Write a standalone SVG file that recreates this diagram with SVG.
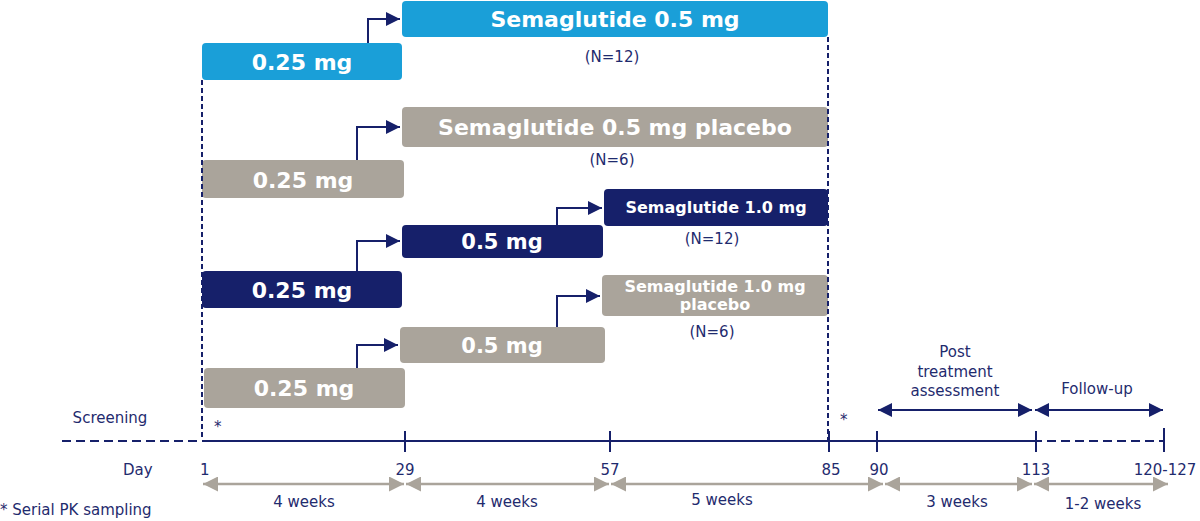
<svg xmlns="http://www.w3.org/2000/svg" width="1200" height="521" viewBox="0 0 1200 521">
<defs>
<marker id="a" viewBox="0 0 10 10" refX="10" refY="5" markerWidth="7" markerHeight="7" orient="auto-start-reverse"><path d="M0,0L10,5L0,10z" fill="#16206a"/></marker>
<marker id="g" viewBox="0 0 10 10" refX="10" refY="5" markerWidth="6" markerHeight="6" orient="auto-start-reverse"><path d="M0,0L10,5L0,10z" fill="#aaa49b"/></marker>
<style>
.b{fill:#1a9fd8}.p{fill:#aaa49b}.n{fill:#16206a}
.bt{font-family:Verdana,"DejaVu Sans",sans-serif;font-weight:bold;fill:#fff;text-anchor:middle}
.t{font-family:Verdana,"DejaVu Sans",sans-serif;fill:#1f2b6e;font-size:15px}
.m{text-anchor:middle}
.c{stroke:#16206a;stroke-width:2;fill:none}
.gl{stroke:#aaa49b;stroke-width:2.5;fill:none}
</style>
</defs>
<g id="r1a"><rect class="b" x="202" y="43" width="200" height="37" rx="4"/><text class="bt" x="302" y="70" font-size="22">0.25 mg</text></g>
<g id="r1b"><rect class="b" x="402" y="1" width="426" height="36" rx="4"/><text class="bt" x="615" y="27" font-size="22">Semaglutide 0.5 mg</text></g>
<g id="r2a"><rect class="p" x="202" y="160" width="202" height="38" rx="4"/><text class="bt" x="303" y="188" font-size="22">0.25 mg</text></g>
<g id="r2b"><rect class="p" x="402" y="107" width="426" height="40" rx="4"/><text class="bt" x="615" y="135" font-size="22">Semaglutide 0.5 mg placebo</text></g>
<g id="r3a"><rect class="n" x="202" y="271" width="200" height="37" rx="4"/><text class="bt" x="302" y="298" font-size="22">0.25 mg</text></g>
<g id="r3b"><rect class="n" x="402" y="225" width="201" height="33" rx="4"/><text class="bt" x="502" y="249" font-size="21">0.5 mg</text></g>
<g id="r3c"><rect class="n" x="604" y="189" width="224" height="37" rx="4"/><text class="bt" x="716" y="213" font-size="16">Semaglutide 1.0 mg</text></g>
<g id="r4a"><rect class="p" x="204" y="368" width="201" height="40" rx="4"/><text class="bt" x="304" y="396" font-size="22">0.25 mg</text></g>
<g id="r4b"><rect class="p" x="400" y="327" width="205" height="36" rx="4"/><text class="bt" x="502" y="353" font-size="21">0.5 mg</text></g>
<g id="r4c"><rect class="p" x="602" y="275" width="226" height="41" rx="4"/><text class="bt" x="715" y="292" font-size="16">Semaglutide 1.0 mg</text><text class="bt" x="715" y="310" font-size="16">placebo</text></g>
<g id="labels">
<text class="t m" x="612" y="62">(N=12)</text>
<text class="t m" x="612" y="165">(N=6)</text>
<text class="t m" x="712" y="244">(N=12)</text>
<text class="t m" x="712" y="337">(N=6)</text>
<text class="t m" x="955" y="357">Post</text>
<text class="t m" x="955" y="377">treatment</text>
<text class="t m" x="955" y="396">assessment</text>
<text class="t m" x="1097" y="394">Follow-up</text>
<text class="t m" x="110" y="423">Screening</text>
<text class="t" x="214" y="432" font-size="17">*</text>
<text class="t" x="840" y="425" font-size="17">*</text>
<text class="t" x="123" y="475">Day</text>
<text class="t" x="200" y="475">1</text>
<text class="t m" x="405" y="475">29</text>
<text class="t m" x="610" y="475">57</text>
<text class="t m" x="831" y="475">85</text>
<text class="t m" x="879" y="475">90</text>
<text class="t m" x="1036" y="475">113</text>
<text class="t m" x="1165" y="475">120-127</text>
<text class="t m" x="304" y="507" font-size="14">4 weeks</text>
<text class="t m" x="507" y="507" font-size="14">4 weeks</text>
<text class="t m" x="722" y="505" font-size="14">5 weeks</text>
<text class="t m" x="957" y="507" font-size="14">3 weeks</text>
<text class="t m" x="1103" y="509" font-size="14">1-2 weeks</text>
<text class="t" x="0" y="515" font-size="14">* Serial PK sampling</text>
</g>
<g id="connectors">
<path class="c" d="M368,43V19H400" marker-end="url(#a)"/>
<path class="c" d="M357,160V127H400" marker-end="url(#a)"/>
<path class="c" d="M357,271V241H400" marker-end="url(#a)"/>
<path class="c" d="M557,225V208H602" marker-end="url(#a)"/>
<path class="c" d="M357,368V345H398" marker-end="url(#a)"/>
<path class="c" d="M557,327V296H600" marker-end="url(#a)"/>
<path class="c" d="M202,80V440M828,37V440" stroke-dasharray="5,3" stroke-width="1.5"/>
<path class="c" d="M62,441H202" stroke-dasharray="9,5" stroke-width="3"/>
<path class="c" d="M202,441H1033" stroke-width="3"/>
<path class="c" d="M1033,441H1163" stroke-dasharray="9,5" stroke-width="3"/>
<path class="c" d="M405,431V452M610,431V452M829,431V452M877,431V452M1036,431V452M1164,428V452" stroke-width="3"/>
<path class="c" d="M878,410H1032" marker-start="url(#a)" marker-end="url(#a)" stroke-width="2.5"/>
<path class="c" d="M1035,410H1163" marker-start="url(#a)" marker-end="url(#a)" stroke-width="2.5"/>
<path class="gl" d="M203,484H404" marker-start="url(#g)" marker-end="url(#g)"/>
<path class="gl" d="M406,484H609" marker-start="url(#g)" marker-end="url(#g)"/>
<path class="gl" d="M611,484H883" marker-start="url(#g)" marker-end="url(#g)"/>
<path class="gl" d="M885,484H1032" marker-start="url(#g)" marker-end="url(#g)"/>
<path class="gl" d="M1034,484H1168" marker-start="url(#g)" marker-end="url(#g)"/>
</g>
</svg>
